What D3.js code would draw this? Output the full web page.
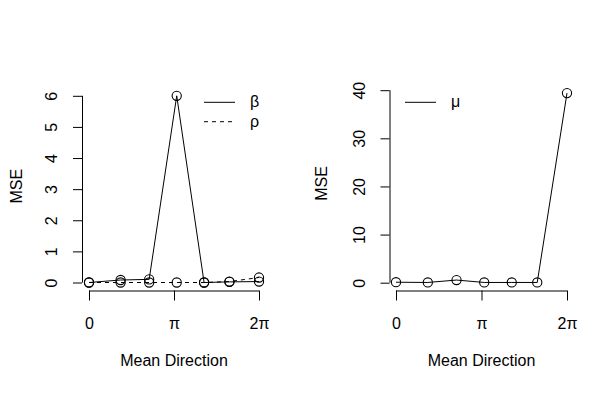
<!DOCTYPE html>
<html><head><meta charset="utf-8">
<script src="https://cdn.jsdelivr.net/npm/d3@7"></script>
<style>body{margin:0;background:#fff}svg{display:block}text{font-family:"Liberation Sans",Arial,Helvetica,sans-serif;fill:#000}</style>
</head><body>
<svg id="c" width="616" height="393"></svg>
<script>
// Data (x in radians, fraction of 2π)
const xFrac = [0, 0.186, 0.354, 0.516, 0.677, 0.826, 1.0];
const betaMSE = [0.0, 0.08, 0.10, 6.0, 0.0, 0.02, 0.03];
const rhoMSE  = [0.0, 0.0, 0.0, 0.0, 0.0, 0.03, 0.16];
const muMSE   = [0.1, 0.05, 0.55, 0.05, 0.05, 0.05, 39.4];
const xTickVals = [0, Math.PI, 2 * Math.PI];
const xTickLabels = ["0", "π", "2π"];
const leftYTicks = [0, 1, 2, 3, 4, 5, 6];
const rightYTicks = [0, 10, 20, 30, 40];
const xLabel = "Mean Direction";
const yLabel = "MSE";

const svg = d3.select("#c");
const xVals = xFrac.map(f => f * 2 * Math.PI);

function panel(opts) {
  const g = svg.append("g");
  const x = d3.scaleLinear().domain([0, 2 * Math.PI]).range(opts.xr);
  const y = d3.scaleLinear().domain(opts.yd).range(opts.yr);
  // x axis
  const xa = g.append("g").attr("transform", `translate(0,${opts.xAxisY})`)
    .call(d3.axisBottom(x).tickValues(xTickVals).tickFormat((d, i) => xTickLabels[i]).tickSize(10).tickSizeOuter(0).tickPadding(0));
  xa.select(".domain").attr("stroke", "#000").attr("d", `M${x(0)},0.5H${x(2*Math.PI)}`);
  xa.selectAll(".tick line").attr("stroke", "#000");
  xa.selectAll(".tick text").attr("font-size", 16).attr("y", 0).attr("dy", null).attr("transform", "translate(0,38)").attr("font-family", "Liberation Sans, Arial, sans-serif");
  // y axis
  const ya = g.append("g").attr("transform", `translate(${opts.yAxisX},0)`)
    .call(d3.axisLeft(y).tickValues(opts.yTicks).tickFormat(d3.format("d")).tickSize(9).tickSizeOuter(0));
  ya.select(".domain").attr("stroke", "#000").attr("d", `M0.5,${y(opts.yTicks[0])}V${y(opts.yTicks[opts.yTicks.length-1])}`);
  ya.selectAll(".tick line").attr("stroke", "#000");
  ya.selectAll(".tick text").attr("font-size", 16).attr("font-family", "Liberation Sans, Arial, sans-serif")
    .attr("x", null).attr("dy", null).attr("text-anchor", "middle")
    .attr("transform", "translate(-25,0) rotate(-90)");
  // axis titles
  g.append("text").attr("x", (opts.xr[0] + opts.xr[1]) / 2).attr("y", 366)
    .attr("text-anchor", "middle").attr("font-size", 16).text(xLabel);
  g.append("text").attr("transform", `translate(${opts.titleX},${(opts.yr[0]+opts.yr[1])/2 - 3}) rotate(-90)`)
    .attr("text-anchor", "middle").attr("font-size", 16).text(yLabel);
  // series
  opts.series.forEach(s => {
    const pts = xVals.map((xv, i) => [x(xv), y(s.values[i])]);
    g.append("path").attr("d", d3.line()(pts)).attr("fill", "none").attr("stroke", "#000")
      .attr("stroke-width", 1).attr("stroke-dasharray", s.dash || null);
    g.selectAll(null).data(pts).enter().append("circle")
      .attr("cx", d => d[0]).attr("cy", d => d[1]).attr("r", 4.6)
      .attr("fill", "none").attr("stroke", "#000").attr("stroke-width", 1.1);
  });
  // legend
  opts.series.forEach((s, i) => {
    const ly = opts.legY + i * 19.4;
    g.append("line").attr("x1", opts.legX).attr("x2", opts.legX + 31).attr("y1", ly).attr("y2", ly)
      .attr("stroke", "#000").attr("stroke-dasharray", s.dash || null);
    g.append("text").attr("x", opts.legX + 46).attr("y", ly + 5).attr("font-size", 16).text(s.name);
  });
}

panel({
  xr: [89, 259], yd: [0, 6], yr: [282.5, 95.8], yTicks: leftYTicks,
  xAxisY: 290.5, yAxisX: 82, titleX: 22,
  legX: 204, legY: 102.3,
  series: [{ name: "β", values: betaMSE }, { name: "ρ", values: rhoMSE, dash: "4,4" }]
});
panel({
  xr: [396, 567], yd: [0, 40], yr: [282.7, 90.2], yTicks: rightYTicks,
  xAxisY: 290.5, yAxisX: 389.5, titleX: 327,
  legX: 405, legY: 102.3,
  series: [{ name: "μ", values: muMSE }]
});
</script>
</body></html>
